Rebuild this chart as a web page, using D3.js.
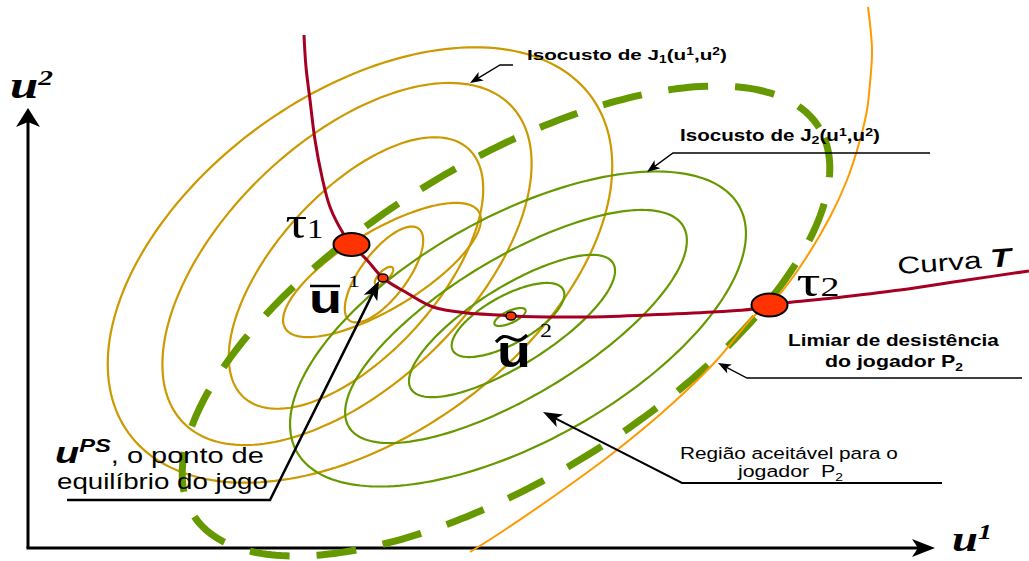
<!DOCTYPE html>
<html><head><meta charset="utf-8">
<script src="https://cdn.jsdelivr.net/npm/d3@7"></script>
<style>body{margin:0;background:#fff}svg{display:block}text{white-space:pre}</style>
</head><body>
<svg id="c" width="1029" height="561"></svg>
<script>
// ---- DATA (arbitrary units on u1 / u2) ----
// iso-cost contours of J1 (centre, semi-axes, tilt in degrees)
const isocostJ1 = [
  {u1:35.6, u2:27.2,  a:1.2,   b:0.5,  angle:45},
  {u1:35.6, u2:27.35, a:5.75,  b:2.3,  angle:53},
  {u1:35.4, u2:27.8,  a:11.3,  b:3.9,  angle:31},
  {u1:32.8, u2:27.5,  a:16.75, b:8.1,  angle:48},
  {u1:31.9, u2:28.4,  a:22.8,  b:12.2, angle:44},
  {u1:33.2, u2:28.3,  a:28.6,  b:17.1, angle:36}
];
// iso-cost contours of J2
const isocostJ2 = [
  {u1:48.2, u2:23.1,  a:1.7,  b:0.6,  angle:25},
  {u1:48.0, u2:22.8,  a:6.3,  b:2.4,  angle:29},
  {u1:48.4, u2:22.2,  a:11.9, b:3.9,  angle:32},
  {u1:48.8, u2:22.15, a:19.5, b:6.9,  angle:31},
  {u1:49.0, u2:21.9,  a:25.3, b:11.3, angle:29}
];
// acceptable region for player P2 (dashed boundary)
const acceptableRegion = [
  {u1:47.8, u2:22.7, a:36.8, b:15.7, angle:31.7}
];
// curve T
const curveT = [
  [27.6,51.3],[27.8,48.1],[28.2,44.8],[28.7,40.8],[29.4,37.1],[30.2,34.1],[31.5,31.5],
  [32.3,30.4],[33.9,28.8],[35.5,27.0],[37.9,25.5],[40.5,24.1],[43.9,23.5],[47.2,23.3],
  [48.3,23.2],[55.2,23.1],[61.9,23.3],[68.5,23.6],[72.5,23.9],[74.2,24.3],[80.5,25.0],
  [87.2,25.8],[93.9,26.8],[100.1,27.7]
];
// withdrawal threshold of player P2
const withdrawalThreshold = [
  [84.0,54.1],[84.4,49.8],[84.2,46.5],[83.9,43.8],[83.2,40.8],[81.9,36.8],[80.2,33.1],
  [77.2,28.1],[74.9,25.1],[72.5,23.1],[68.9,18.8],[64.5,14.5],[58.9,9.8],[53.9,6.1],
  [47.2,1.5],[44.2,-0.4]
];
// key points
const keyPoints = [
  {id:'tau1',   u1:32.35, u2:30.35, big:true},
  {id:'tau2',   u1:74.15, u2:24.3,  big:true},
  {id:'ubar1',  u1:35.5,  u2:27.0,  big:false},
  {id:'utilde2',u1:48.3,  u2:23.2,  big:false}
];

// ---- DRAWING ----
const svg = d3.select('#c');
const x = d3.scaleLinear().domain([0,92]).range([28,948]);
const y = d3.scaleLinear().domain([0,44]).range([548,108]);

const GOLD='#CC9900', GREEN='#669900', RED='#A50021', ORANGE='#FF9900', PT='#FF3300';

function ellipsePts(e, n=200){
  const phi=e.angle*Math.PI/180, c=Math.cos(phi), s=Math.sin(phi);
  return d3.range(n).map(i=>{
    const t=2*Math.PI*i/n, p=e.a*Math.cos(t), q=e.b*Math.sin(t);
    return [e.u1+p*c-q*s, e.u2+p*s+q*c];
  });
}
const lineClosed = d3.line().x(d=>x(d[0])).y(d=>y(d[1])).curve(d3.curveLinearClosed);
const lineOpen = d3.line().x(d=>x(d[0])).y(d=>y(d[1])).curve(d3.curveCatmullRom.alpha(0.5));

// axes
const axes = svg.append('g');
axes.append('path').attr('d', d3.line()([[x(0),y(0)],[x(0),y(43)]]))
  .attr('stroke','#000').attr('stroke-width',3).attr('fill','none');
axes.append('path').attr('d', d3.line()([[x(0)-1.5,y(0)],[x(89.2),y(0)]]))
  .attr('stroke','#000').attr('stroke-width',3).attr('fill','none');
(function(){
  const tx=x(0), ty=y(44);
  axes.append('path').attr('d',`M${tx},${ty} L${tx+12},${ty+19} L${tx},${ty+14} L${tx-12},${ty+19} Z`).attr('fill','#000');
  const ax=x(90.7), ay=y(0);
  axes.append('path').attr('d',`M${ax},${ay} L${ax-23},${ay+9} L${ax-17},${ay} L${ax-23},${ay-9} Z`).attr('fill','#000');
})();

// contours
svg.append('g').selectAll('path').data(isocostJ1).join('path')
  .attr('d', d=>lineClosed(ellipsePts(d))).attr('fill','none').attr('stroke',GOLD).attr('stroke-width',2.2);
svg.append('g').selectAll('path').data(isocostJ2).join('path')
  .attr('d', d=>lineClosed(ellipsePts(d))).attr('fill','none').attr('stroke',GREEN).attr('stroke-width',2.2);
svg.append('g').selectAll('path').data(acceptableRegion).join('path')
  .attr('d', d=>lineClosed(ellipsePts(d,300))).attr('fill','none').attr('stroke',GREEN)
  .attr('stroke-width',7).attr('stroke-dasharray','40,27').attr('stroke-dashoffset',10);

// withdrawal threshold (orange) and curve T
svg.append('path').attr('d', lineOpen(withdrawalThreshold)).attr('fill','none').attr('stroke',ORANGE).attr('stroke-width',2);
svg.append('path').attr('d', lineOpen(curveT)).attr('fill','none').attr('stroke',RED).attr('stroke-width',3);

// leader arrows
function arrow(pts, hl, hw, sw){
  const n=pts.length, tip=pts[n-1], prev=pts[n-2];
  const dx=tip[0]-prev[0], dy=tip[1]-prev[1], L=Math.hypot(dx,dy), ux=dx/L, uy=dy/L;
  const bx=tip[0]-ux*hl, by=tip[1]-uy*hl, nx=-uy, ny=ux;
  const linePts=pts.slice(0,n-1).concat([[tip[0]-ux*hl*0.7, tip[1]-uy*hl*0.7]]);
  svg.append('path').attr('d', d3.line()(linePts)).attr('fill','none').attr('stroke','#000').attr('stroke-width',sw);
  const nxp=tip[0]-ux*hl*0.75, nyp=tip[1]-uy*hl*0.75;
  svg.append('path').attr('d',`M${tip[0]},${tip[1]} L${bx+nx*hw},${by+ny*hw} L${nxp},${nyp} L${bx-nx*hw},${by-ny*hw} Z`).attr('fill','#000');
}
const pu = keyPoints.find(d=>d.id==='ubar1');
arrow([[513,65],[500,65],[470,83]], 13, 5, 1.3);
arrow([[930,153],[673,153],[647,172]], 13, 5, 1.3);
arrow([[1022,378],[747,378],[718,363]], 13, 5, 1.3);
arrow([[942,483],[682,483],[543,412]], 19, 7, 2);
arrow([[67,500],[270,500],[x(pu.u1)-4, y(pu.u2)+3]], 19, 7.5, 2.5);

// key points
svg.append('g').selectAll('ellipse').data(keyPoints).join('ellipse')
  .attr('cx', d=>x(d.u1)).attr('cy', d=>y(d.u2))
  .attr('rx', d=>d.big?18:5).attr('ry', d=>d.big?11.5:4)
  .attr('fill',PT).attr('stroke','#000').attr('stroke-width', d=>d.big?2:1.5);

// text helper: parts with optional size/weight/style/family/rise; fitted to target width
function label(px, py, width, base, parts, rot){
  const g=svg.append('g');
  const t=g.append('text').attr('x',0).attr('y',0)
    .attr('font-family', base.family||"'Liberation Sans', Arial, sans-serif")
    .attr('font-size', base.size).attr('font-weight', base.weight||'normal')
    .attr('font-style', base.style||'normal').attr('fill','#000');
  let cur=0;
  parts.forEach(p=>{
    const ts=t.append('tspan').text(p.t);
    ['size','weight','style','family'].forEach(k=>{ if(p[k]) ts.attr(k==='size'?'font-size':'font-'+k, p[k]); });
    const r=p.rise||0;
    if(r!==cur){ ts.attr('dy', -(r-cur)); cur=r; }
  });
  const w=t.node().getComputedTextLength();
  const sx = width ? width/w : 1;
  g.attr('transform', `translate(${px},${py})` + (rot?` rotate(${rot})`:'') + ` scale(${sx},1)`);
  return g;
}
const SERIF="'Liberation Serif', 'Times New Roman', serif";

label(527,60,200,{size:15,weight:'bold'},[{t:'Isocusto de J'},{t:'1',size:10,rise:-3},{t:'(u'},{t:'1',size:10,rise:5},{t:',u'},{t:'2',size:10,rise:5},{t:')'}]);
label(680,141,200,{size:16,weight:'bold'},[{t:'Isocusto de J'},{t:'2',size:11,rise:-3},{t:'(u'},{t:'1',size:11,rise:5},{t:',u'},{t:'2',size:11,rise:5},{t:')'}]);
label(788,346,211,{size:17,weight:'bold'},[{t:'Limiar de desistência'}]);
label(825,367,138,{size:17,weight:'bold'},[{t:'do jogador P'},{t:'2',size:11,rise:-4}]);
label(680,459,218,{size:17},[{t:'Região aceitável para o'}]);
label(738,477,105,{size:17},[{t:'jogador  P'},{t:'2',size:11,rise:-4}]);
label(55,463,209,{size:22},[{t:'u',size:30,weight:'bold',style:'italic'},{t:'PS',size:18,weight:'bold',style:'italic',rise:11},{t:', o ponto de'}]);
label(57,489,211,{size:22},[{t:'equilíbrio do jogo'}]);
label(898,274,114,{size:24},[{t:'Curva '},{t:'T',size:26,weight:'bold',style:'italic'}],-4);

// point labels (placed relative to the points)
const p1=keyPoints.find(d=>d.id==='tau1'), p2=keyPoints.find(d=>d.id==='tau2'), pt2=keyPoints.find(d=>d.id==='utilde2');
label(x(p1.u1)-66, y(p1.u2)-7, 38, {size:28, family:SERIF},[{t:'τ',size:46},{t:'1'}]);
label(x(p2.u1)+27, y(p2.u2)-9, 43, {size:28, family:SERIF},[{t:'τ',size:44},{t:'2'}]);
// ū¹
label(x(pu.u1)-74, y(pu.u2)+35, 33, {size:40, weight:'bold'},[{t:'u'}]);
svg.append('line').attr('x1',x(pu.u1)-73).attr('x2',x(pu.u1)-43).attr('y1',y(pu.u2)+8).attr('y2',y(pu.u2)+8).attr('stroke','#000').attr('stroke-width',2.5);
label(x(pu.u1)-35, y(pu.u2)+9, 12, {size:16, family:SERIF},[{t:'1'}]);
// ũ²
label(x(pt2.u1)-14, y(pt2.u2)+51, 34, {size:44, weight:'bold'},[{t:'u'}]);
(function(){
  const bx=x(pt2.u1)-15, by=y(pt2.u2)+21;
  svg.append('path').attr('d', d3.line().curve(d3.curveBasis)([[bx,by+5],[bx+7,by-2],[bx+15,by+1],[bx+23,by+5],[bx+31,by-2]]))
    .attr('fill','none').attr('stroke','#000').attr('stroke-width',3.2);
})();
label(x(pt2.u1)+29, y(pt2.u2)+21, 12, {size:18, family:SERIF},[{t:'2'}]);

// axis titles
label(10,98,43,{size:38, weight:'bold', style:'italic', family:SERIF},[{t:'u'},{t:'2',size:22,rise:13}]);
label(952,551,40,{size:35, weight:'bold', style:'italic', family:SERIF},[{t:'u'},{t:'1',size:21,rise:12}]);
</script>
</body></html>
